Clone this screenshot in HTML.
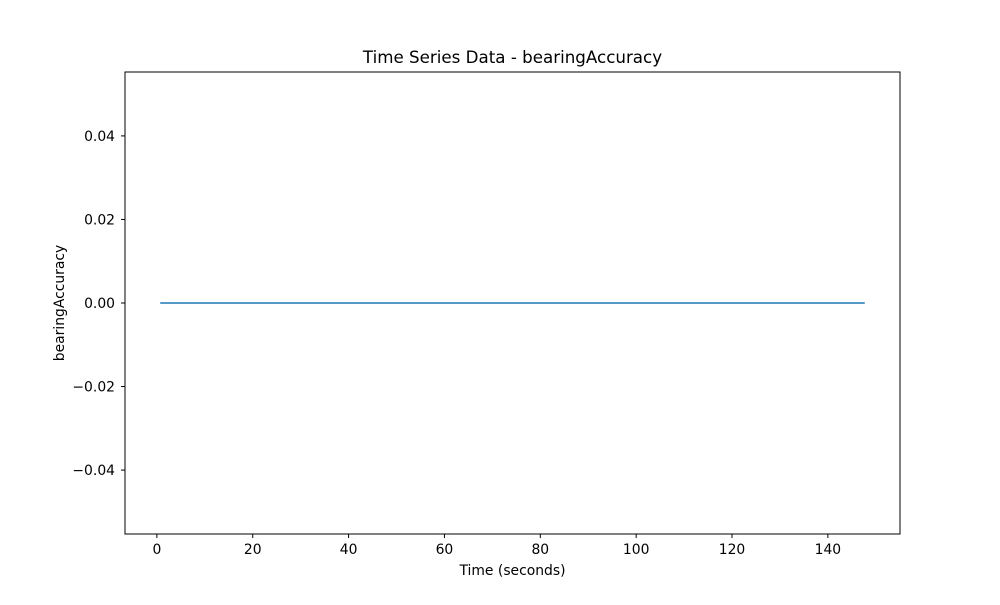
<!DOCTYPE html>
<html><head><meta charset="utf-8"><style>
body{margin:0;background:#fff;}
svg text{font-family:"DejaVu Sans","Liberation Sans",sans-serif;font-size:13.9px;fill:#000;}
</style></head><body>
<svg id="chart" width="1000" height="600" xmlns="http://www.w3.org/2000/svg">
<rect width="1000" height="600" fill="#fff"/>
<text x="512.5" y="63" text-anchor="middle" style="font-size:16.7px">Time Series Data - bearingAccuracy</text>
<text x="512.5" y="575" text-anchor="middle">Time (seconds)</text>
<text transform="translate(64,303) rotate(-90)" text-anchor="middle">bearingAccuracy</text>
<g id="xt"></g><g id="yt"></g><g id="series"></g>
<rect x="125" y="72" width="775" height="462" fill="none" stroke="#000" stroke-width="1"/>
</svg>
<script>
const times = [0.7, 147.7];
const values = [0, 0];
const xTicks = [0, 20, 40, 60, 80, 100, 120, 140];
const yTicks = [-0.04, -0.02, 0.00, 0.02, 0.04];
const yTickLabels = ["−0.04", "−0.02", "0.00", "0.02", "0.04"];
const X0=125,X1=900,Y0=72,Y1=534;
const xMin=-6.65,xMax=155.05,yMin=-0.0553,yMax=0.0553;
const xs=v=>X0+(v-xMin)/(xMax-xMin)*(X1-X0);
const ys=v=>Y1-(v-yMin)/(yMax-yMin)*(Y1-Y0);
const NS="http://www.w3.org/2000/svg";
function mk(t,a,p){const e=document.createElementNS(NS,t);for(const k in a)e.setAttribute(k,a[k]);p.appendChild(e);return e;}
const xt=document.getElementById('xt');
xTicks.forEach(v=>{
 const l=mk('line',{x1:xs(v),x2:xs(v),y1:Y1,y2:Y1+4,stroke:'#000'},xt);
 
 
 const t=mk('text',{x:xs(v),y:Y1+20,'text-anchor':'middle'},xt);t.textContent=v;
 
 
});
const yt=document.getElementById('yt');
yTicks.forEach((v,i)=>{
 const l=mk('line',{x1:X0-4,x2:X0,y1:ys(v),y2:ys(v),stroke:'#000'},yt);
 
 
 const t=mk('text',{x:X0-10,y:ys(v)+5,'text-anchor':'end'},yt);t.textContent=yTickLabels[i];
 
 
});
const pts=times.map((t,i)=>xs(t)+','+ys(values[i])).join(' ');
const pl=mk('polyline',{points:pts,fill:'none',stroke:'#1f77b4','stroke-width':1.5},document.getElementById('series'));


</script>
</body></html>
